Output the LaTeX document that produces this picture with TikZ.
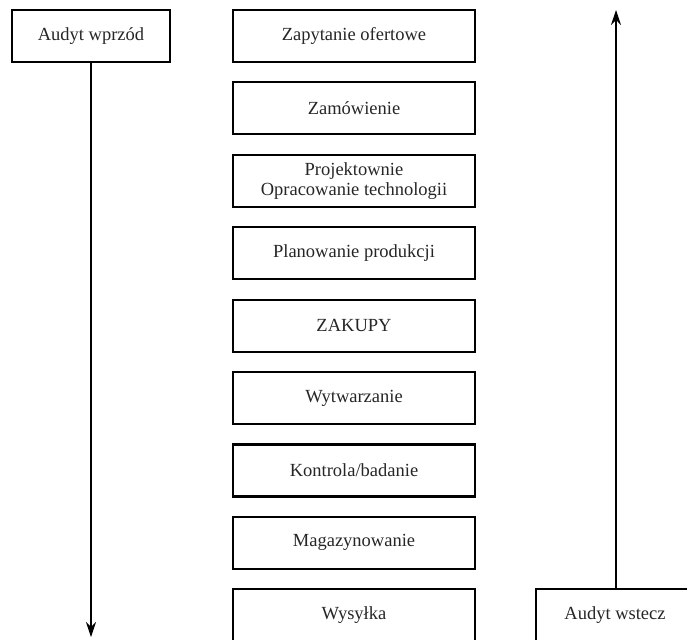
\documentclass[tikz,border=0pt]{standalone}
\usepackage{fontspec}
\setmainfont{Liberation Serif}
\usetikzlibrary{arrows.meta}
\begin{document}
\begin{tikzpicture}[x=1pt,y=-1pt,
  label font/.style={font=\fontsize{18.5}{20}\selectfont, text=black!85},
  stepbox/.style={draw, line width=2.2pt, minimum width=242pt, minimum height=52pt,
    inner sep=0pt, align=center, label font},
  auditbox/.style={draw, line width=2.2pt, minimum width=158pt, minimum height=52pt,
    inner sep=0pt, align=center, label font},
  flow/.style={line width=1.1pt, -{Stealth[length=15pt,width=10pt,inset=5pt]}}]
\useasboundingbox (0,0) rectangle (687,639);
\clip (0,0) rectangle (687,639);

% process steps, top to bottom
\node[stepbox] (s1) at (354,36.0)  {Zapytanie ofertowe};
\node[stepbox] (s2) at (354,108.4) {Zamówienie};
\node[stepbox] (s3) at (354,180.8) {Projektownie\\Opracowanie technologii};
\node[stepbox] (s4) at (354,253.2) {Planowanie produkcji};
\node[stepbox] (s5) at (354,325.6) {ZAKUPY};
\node[stepbox] (s6) at (354,398.0) {Wytwarzanie};
\node[stepbox] (s7) at (354,470.4) {Kontrola/badanie};
\node[stepbox] (s8) at (354,542.8) {Magazynowanie};
\node[stepbox] (s9) at (354,615.2) {Wysyłka};

% audit directions
\node[auditbox] (fwd) at (91,36) {Audyt wprzód};
\node[auditbox] (bwd) at (615,615.2) {Audyt wstecz};

\coordinate (fwdend) at (91,637);
\coordinate (bwdend) at (616,10);
\draw[flow] (fwd.south) -- (fwdend);
\draw[flow] (bwd.north -| bwdend) -- (bwdend);
\end{tikzpicture}
\end{document}
